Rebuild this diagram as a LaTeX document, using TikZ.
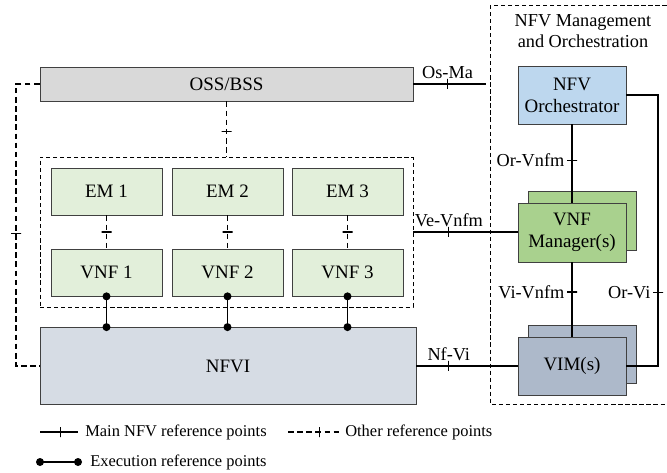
\documentclass[tikz,border=0pt]{standalone}
\usepackage{fontspec}
\setmainfont{Liberation Serif}
\usetikzlibrary{calc}

\newcommand{\px}{0.025cm}
\definecolor{ossfill}{HTML}{D9D9D9}
\definecolor{vnffill}{HTML}{E2EFDA}
\definecolor{nfvifill}{HTML}{D6DCE4}
\definecolor{orchfill}{HTML}{BDD7EE}
\definecolor{vnfmfill}{HTML}{A9D18E}
\definecolor{vimfill}{HTML}{ADB9CA}

\begin{document}
\begin{tikzpicture}[x=\px,y=-\px,
    blk/.style={draw=black!75, line width=0.55pt, inner sep=0pt, align=center,
      font=\fontsize{13.5}{15.5}\selectfont},
    ref/.style={line width=0.9pt},
    other/.style={line width=0.9pt, dash pattern=on 4pt off 2.5pt},
    refmark/.style={sloped, draw, solid, inner sep=0pt, minimum width=0pt,
      minimum height=10*\px},
    exdot/.style={fill=black},
    lbl/.style={font=\fontsize{13}{15}\selectfont, inner sep=1pt},
    lgd/.style={font=\fontsize{11.7}{14}\selectfont, inner sep=0pt, anchor=west}]

\useasboundingbox (0,0) rectangle (667,473);

% management and orchestration frame
\draw[line width=0.6pt, dash pattern=on 3pt off 2pt] (490,5) rectangle (668,404);
\node[lbl, align=center] (manotitle) at (583,31) {NFV Management\\and Orchestration};

% left column
\node[blk, fill=ossfill, minimum width=373*\px, minimum height=34*\px] (oss) at (226.5,84) {OSS/BSS};
\node[draw, line width=0.6pt, dash pattern=on 3pt off 2pt, inner sep=0pt,
  minimum width=373*\px, minimum height=150*\px] (vnfbox) at (226.5,232) {};
\foreach \i/\x in {1/106.5,2/227.5,3/347.5}{
  \node[blk, fill=vnffill, minimum width=111*\px, minimum height=47*\px] (em\i) at (\x,191.5) {EM \i};
  \node[blk, fill=vnffill, minimum width=111*\px, minimum height=47*\px] (vnf\i) at (\x,272.5) {VNF \i};
}
\node[blk, fill=nfvifill, minimum width=376*\px, minimum height=77*\px] (nfvi) at (228,366) {NFVI};

% right column
\node[blk, fill=orchfill, minimum width=108*\px, minimum height=58*\px] (orch) at (572,95) {NFV\\Orchestrator};
\node[blk, fill=vnfmfill, minimum width=108*\px, minimum height=59*\px] (vnfmback) at (582.5,221) {};
\node[blk, fill=vnfmfill, minimum width=108*\px, minimum height=59*\px] (vnfm) at (572,232.5) {VNF\\Manager(s)};
\node[blk, fill=vimfill, minimum width=108*\px, minimum height=58*\px] (vimback) at (582.5,354) {};
\node[blk, fill=vimfill, minimum width=108*\px, minimum height=58*\px] (vim) at (572,366) {VIM(s)};

% main reference points
\coordinate (osmaend) at (486,84);
\coordinate (orvia) at (658,95);
\coordinate (orvib) at (658,366);
\draw[ref] (oss.east) -- (osmaend) node[pos=.47, refmark]{} node[pos=.47, lbl, above=2pt]{Os-Ma};
\draw[ref] (vnfbox.east) -- (vnfbox.east -| vnfm.west) node[pos=.34, refmark]{} node[pos=.34, lbl, above=2pt]{Ve-Vnfm};
\draw[ref] (nfvi.east) -- (vim.west) node[pos=.32, refmark]{} node[pos=.32, lbl, above=2pt]{Nf-Vi};
\draw[ref] (orch.south) -- (vnfm.north) node[pos=.46, refmark]{} node[pos=.46, lbl, left=4pt]{Or-Vnfm};
\draw[ref] (vnfm.south) -- (vim.north) node[pos=.4, refmark]{} node[pos=.4, lbl, left=4pt]{Vi-Vnfm};
\draw[ref] (orch.east) -- (orvia) -- (orvib) node[pos=.73, refmark]{} node[pos=.73, lbl, left=4pt]{Or-Vi} -- (vim.east);

% other reference points
\coordinate (loopa) at (16,84);
\coordinate (loopb) at (16,366);
\draw[other] (oss.south) -- (vnfbox.north) node[pos=.54, refmark]{};
\foreach \i in {1,2,3}
  \draw[other] (em\i.south) -- (vnf\i.north) node[pos=.5, refmark]{};
\draw[other] (oss.west) -- (loopa) -- (loopb) node[pos=.53, refmark]{} -- (nfvi.west);

% execution reference points
\foreach \i in {1,2,3}{
  \draw[ref] (vnf\i.south) -- (vnf\i.south |- nfvi.north);
  \fill[exdot] (vnf\i.south) circle[radius=4*\px];
  \fill[exdot] (vnf\i.south |- nfvi.north) circle[radius=4*\px];
}

% legend
\node[lgd] (lgmain) at (85,432) {Main NFV reference points};
\node[lgd] (lgother) at (345,432) {Other reference points};
\node[lgd] (lgexec) at (90,462) {Execution reference points};
\coordinate (lgmaina) at (40,432);
\coordinate (lgothera) at (288,432);
\coordinate (lgexeca) at (40,462);
\draw[ref] (lgmaina) -- ([xshift=-7*\px]lgmain.west) node[pos=.53, refmark]{};
\draw[other] (lgothera) -- ([xshift=-5*\px]lgother.west) node[pos=.6, refmark]{};
\draw[ref] (lgexeca) -- ([xshift=-12*\px]lgexec.west);
\fill[exdot] (lgexeca) circle[radius=4*\px];
\fill[exdot] ([xshift=-12*\px]lgexec.west) circle[radius=4*\px];
\end{tikzpicture}
\end{document}
